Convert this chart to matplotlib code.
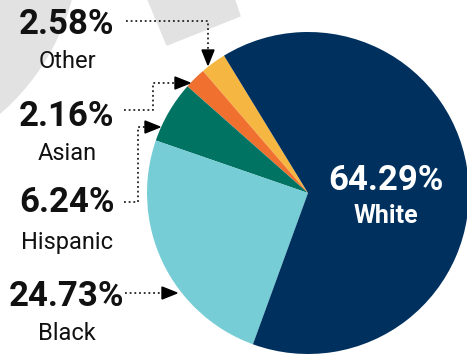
import numpy as np
import matplotlib
matplotlib.use("Agg")
import matplotlib.pyplot as plt
from matplotlib.patches import Circle, Polygon

# === data ===
groups = ["Other", "Asian", "Hispanic", "Black", "White"]
shares = [2.58, 2.16, 6.24, 24.73, 64.29]
colors = ["#F5B642", "#F07030", "#007363", "#76CDD5", "#00305E"]

FONT = ["Roboto", "DejaVu Sans"]

W, H = 467, 356
fig = plt.figure(figsize=(W / 100, H / 100), dpi=100)
ax = fig.add_axes([0, 0, 1, 1])

# background decorations
ax.add_patch(Circle((-150, H + 60), 229, color="#E2E2E2", zorder=0))
ax.add_patch(Polygon([(146, H + 5), (167, H - 45), (240, H - 16), (233, H + 5)],
                     closed=True, color="#E2E2E2", zorder=0))

# === pie ===
cx, cy, R = 308, H - 193, 161
start = 250 - sum(shares[:-1]) * 3.6
ax.pie(shares, colors=colors, startangle=start, counterclock=True,
       center=(cx, cy), radius=R, frame=True,
       wedgeprops=dict(linewidth=0))
ax.set_xlim(0, W)
ax.set_ylim(0, H)
ax.set_aspect("equal")
ax.axis("off")


def arrow_head(tip, direction, length=15, width=12):
    d = np.array(direction, float)
    d /= np.linalg.norm(d)
    n = np.array([-d[1], d[0]])
    tip = np.array(tip, float)
    base = tip - d * length
    pts = [tip, base + n * width / 2, base - n * width / 2]
    ax.add_patch(Polygon(pts, closed=True, color="black", zorder=5))
    return base


def leader(points, direction):
    pts = np.array(points, float)
    base = arrow_head(pts[-1], direction)
    pts[-1] = base
    ax.plot(pts[:, 0], pts[:, 1], color="#222222", lw=1.3,
            linestyle=(0, (1, 1.6)), zorder=4)


def yy(v):
    return H - v


leader([(126, yy(21)), (208, yy(21)), (208, yy(65))], (0, -1))
leader([(124, yy(110)), (153, yy(110)), (153, yy(83)), (190, yy(83))], (1, 0))
leader([(124, yy(202)), (138, yy(202)), (138, yy(127)), (160, yy(127))], (1, 0))
leader([(125, yy(293)), (177, yy(293))], (1, 0))

# === labels ===
label_y = {"Other": (24, 62), "Asian": (117, 153),
           "Hispanic": (203, 242), "Black": (297, 333)}
for g, s in zip(groups, shares):
    if g == "White":
        continue
    y1, y2 = label_y[g]
    ax.text(67, yy(y1), f"{s:.2f}%", ha="center", va="center",
            fontsize=25, fontweight="bold", family=FONT, color="#111111")
    ax.text(67, yy(y2), g, ha="center", va="center",
            fontsize=17, family=FONT, color="#111111")

ax.text(386, yy(181), f"{shares[-1]:.2f}%", ha="center", va="center",
        fontsize=25, fontweight="bold", family=FONT, color="white")
ax.text(386, yy(216), groups[-1], ha="center", va="center",
        fontsize=18, fontweight="bold", family=FONT, color="white")

fig.savefig("out.png", dpi=100)
